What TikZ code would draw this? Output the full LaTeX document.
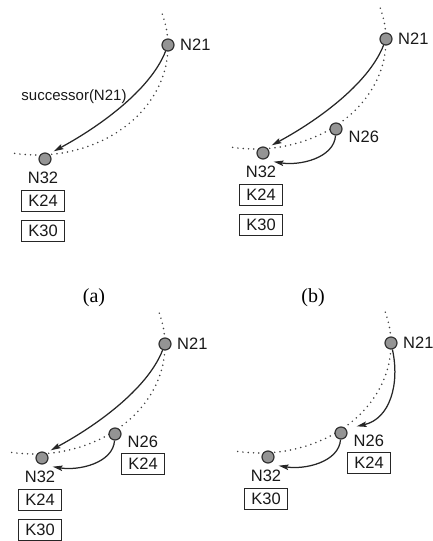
\documentclass[tikz,border=0pt]{standalone}
\usepackage{fontspec}
\setmainfont{Liberation Serif}
\setsansfont{Liberation Sans}
\usetikzlibrary{arrows.meta}

\begin{document}
\begin{tikzpicture}[x=1pt,y=-1pt,
  peer/.style={circle,minimum size=12pt,inner sep=0pt,fill=black!42,draw=black!80,line width=1.2pt},
  lbl/.style={font=\sffamily\fontsize{16.5}{19}\selectfont,inner sep=0pt,text=black!90},
  keybox/.style={draw=black!85,line width=1.2pt,minimum width=43pt,minimum height=21pt,
                 inner sep=0pt,font=\sffamily\fontsize{16.5}{19}\selectfont,text=black!90},
  ring/.style={black!75,line width=1.7pt,dash pattern=on 0pt off 5.3pt,line cap=round},
  link/.style={black!85,line width=1.25pt,-{Stealth[length=10pt,width=5.5pt,inset=2pt]}},
  panelcap/.style={font=\rmfamily\fontsize{20}{24}\selectfont,inner sep=0pt}
]
\useasboundingbox (0,0) rectangle (433,541);

% ---------- (a): successor pointer of N21 ----------
\begin{scope}[shift={(-218,6)}]
  \draw[ring] plot[domain=-17:102,samples=80,variable=\t] ({255+131*cos(\t)},{40+109*sin(\t)});
  \node[peer] (a21) at (386,39) {};
  \node[peer] (a32) at (263,153) {};
  \node[lbl,anchor=west,xshift=12pt] (a21l) at (a21) {N21};
  \node[lbl,xshift=-2pt,yshift=-19pt] (a32l) at (a32) {N32};
  \node[keybox,xshift=-2pt,yshift=-42pt] (a32k1) at (a32) {K24};
  \node[keybox,xshift=-2pt,yshift=-72pt] (a32k2) at (a32) {K30};
  \draw[link] (a21) .. controls (368,85) and (315,122) .. ([shift={(4pt,3pt)}]a32.north east);
  \node[font=\sffamily\fontsize{15}{18}\selectfont,inner sep=0pt,text=black!90] (asucc) at (292,91) {successor(N21)};
\end{scope}

% ---------- (b): N26 joins, pointing to N32 ----------
\begin{scope}
  \draw[ring] plot[domain=-17:102,samples=80,variable=\t] ({255+131*cos(\t)},{40+109*sin(\t)});
  \node[peer] (b21) at (386,39) {};
  \node[peer] (b26) at (336,129) {};
  \node[peer] (b32) at (263,153) {};
  \node[lbl,anchor=west,xshift=12pt] (b21l) at (b21) {N21};
  \node[lbl,anchor=west,xshift=12.5pt,yshift=-8pt] (b26l) at (b26) {N26};
  \node[lbl,xshift=-2pt,yshift=-19pt] (b32l) at (b32) {N32};
  \node[keybox,xshift=-2pt,yshift=-42pt] (b32k1) at (b32) {K24};
  \node[keybox,xshift=-2pt,yshift=-72pt] (b32k2) at (b32) {K30};
  \draw[link] (b21) .. controls (368,85) and (315,122) .. ([shift={(4pt,3pt)}]b32.north east);
  \draw[link] (b26) .. controls (334,158) and (300,166) .. ([shift={(6pt,-4pt)}]b32.south east);
\end{scope}

% ---------- (c): K24 copied to N26 ----------
\begin{scope}[shift={(-221,305)}]
  \draw[ring] plot[domain=-17:102,samples=80,variable=\t] ({255+131*cos(\t)},{40+109*sin(\t)});
  \node[peer] (c21) at (386,39) {};
  \node[peer] (c26) at (336,129) {};
  \node[peer] (c32) at (263,153) {};
  \node[lbl,anchor=west,xshift=12pt] (c21l) at (c21) {N21};
  \node[lbl,anchor=west,xshift=12.5pt,yshift=-8pt] (c26l) at (c26) {N26};
  \node[keybox,xshift=28pt,yshift=-30pt] (c26k1) at (c26) {K24};
  \node[lbl,xshift=-2pt,yshift=-19pt] (c32l) at (c32) {N32};
  \node[keybox,xshift=-2pt,yshift=-42pt] (c32k1) at (c32) {K24};
  \node[keybox,xshift=-2pt,yshift=-72pt] (c32k2) at (c32) {K30};
  \draw[link] (c21) .. controls (368,85) and (315,122) .. ([shift={(4pt,3pt)}]c32.north east);
  \draw[link] (c26) .. controls (334,158) and (300,166) .. ([shift={(6pt,-4pt)}]c32.south east);
\end{scope}

% ---------- (d): N21 now points to N26 ----------
\begin{scope}[shift={(5,304)}]
  \draw[ring] plot[domain=-17:102,samples=80,variable=\t] ({255+131*cos(\t)},{40+109*sin(\t)});
  \node[peer] (d21) at (386,39) {};
  \node[peer] (d26) at (336,129) {};
  \node[peer] (d32) at (263,153) {};
  \node[lbl,anchor=west,xshift=12pt] (d21l) at (d21) {N21};
  \node[lbl,anchor=west,xshift=12.5pt,yshift=-8pt] (d26l) at (d26) {N26};
  \node[keybox,xshift=28pt,yshift=-30pt] (d26k1) at (d26) {K24};
  \node[lbl,xshift=-2pt,yshift=-19pt] (d32l) at (d32) {N32};
  \node[keybox,xshift=-2pt,yshift=-42pt] (d32k1) at (d32) {K30};
  \draw[link] (d21) .. controls (395,80) and (385,115) .. ([shift={(11pt,2pt)}]d26.north east);
  \draw[link] (d26) .. controls (334,158) and (300,166) .. ([shift={(6pt,-4pt)}]d32.south east);
\end{scope}

% ---------- sub-figure captions ----------
\node[panelcap] (capa) at (94,298) {(a)};
\node[panelcap] (capb) at (313,298) {(b)};
\end{tikzpicture}
\end{document}
